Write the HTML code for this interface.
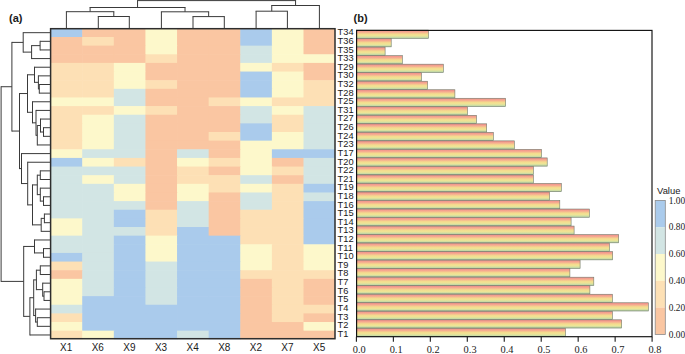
<!DOCTYPE html><html><head><meta charset="utf-8"><style>html,body{margin:0;padding:0;background:#fff;}body{width:685px;height:354px;overflow:hidden;}svg{display:block;}.s{font-family:"Liberation Sans",sans-serif;}.r{font-family:"Liberation Serif",serif;}</style></head><body>
<svg width="685" height="354" viewBox="0 0 685 354">
<defs><linearGradient id="bg" x1="0" y1="0" x2="0" y2="1"><stop offset="0" stop-color="#f08a8a"/><stop offset="0.25" stop-color="#f6ab90"/><stop offset="0.5" stop-color="#f4dc8e"/><stop offset="0.7" stop-color="#eee496"/><stop offset="0.88" stop-color="#c9dca4"/><stop offset="1" stop-color="#a8c49c"/></linearGradient></defs>
<rect x="50.60" y="28.36" width="32.21" height="9.24" fill="#aacbec"/>
<rect x="82.21" y="28.36" width="32.21" height="9.24" fill="#fac6a2"/>
<rect x="113.82" y="28.36" width="32.21" height="9.24" fill="#fac6a2"/>
<rect x="145.43" y="28.36" width="32.21" height="9.24" fill="#fdf8cb"/>
<rect x="177.04" y="28.36" width="32.21" height="9.24" fill="#fac6a2"/>
<rect x="208.66" y="28.36" width="32.21" height="9.24" fill="#fac6a2"/>
<rect x="240.27" y="28.36" width="32.21" height="9.24" fill="#aacbec"/>
<rect x="271.88" y="28.36" width="32.21" height="9.24" fill="#fdf8cb"/>
<rect x="303.49" y="28.36" width="31.61" height="9.24" fill="#fac6a2"/>
<rect x="50.60" y="37.00" width="32.21" height="9.24" fill="#fac6a2"/>
<rect x="82.21" y="37.00" width="32.21" height="9.24" fill="#fde0b5"/>
<rect x="113.82" y="37.00" width="32.21" height="9.24" fill="#fac6a2"/>
<rect x="145.43" y="37.00" width="32.21" height="9.24" fill="#fdf8cb"/>
<rect x="177.04" y="37.00" width="32.21" height="9.24" fill="#fac6a2"/>
<rect x="208.66" y="37.00" width="32.21" height="9.24" fill="#fac6a2"/>
<rect x="240.27" y="37.00" width="32.21" height="9.24" fill="#aacbec"/>
<rect x="271.88" y="37.00" width="32.21" height="9.24" fill="#fdf8cb"/>
<rect x="303.49" y="37.00" width="31.61" height="9.24" fill="#fac6a2"/>
<rect x="50.60" y="45.63" width="32.21" height="9.24" fill="#fac6a2"/>
<rect x="82.21" y="45.63" width="32.21" height="9.24" fill="#fac6a2"/>
<rect x="113.82" y="45.63" width="32.21" height="9.24" fill="#fac6a2"/>
<rect x="145.43" y="45.63" width="32.21" height="9.24" fill="#fdf8cb"/>
<rect x="177.04" y="45.63" width="32.21" height="9.24" fill="#fac6a2"/>
<rect x="208.66" y="45.63" width="32.21" height="9.24" fill="#fac6a2"/>
<rect x="240.27" y="45.63" width="32.21" height="9.24" fill="#d2e5e4"/>
<rect x="271.88" y="45.63" width="32.21" height="9.24" fill="#fdf8cb"/>
<rect x="303.49" y="45.63" width="31.61" height="9.24" fill="#fac6a2"/>
<rect x="50.60" y="54.27" width="32.21" height="9.24" fill="#fac6a2"/>
<rect x="82.21" y="54.27" width="32.21" height="9.24" fill="#fac6a2"/>
<rect x="113.82" y="54.27" width="32.21" height="9.24" fill="#fac6a2"/>
<rect x="145.43" y="54.27" width="32.21" height="9.24" fill="#fde0b5"/>
<rect x="177.04" y="54.27" width="32.21" height="9.24" fill="#fac6a2"/>
<rect x="208.66" y="54.27" width="32.21" height="9.24" fill="#fac6a2"/>
<rect x="240.27" y="54.27" width="32.21" height="9.24" fill="#d2e5e4"/>
<rect x="271.88" y="54.27" width="32.21" height="9.24" fill="#fdf8cb"/>
<rect x="303.49" y="54.27" width="31.61" height="9.24" fill="#fdf8cb"/>
<rect x="50.60" y="62.91" width="32.21" height="9.24" fill="#fde0b5"/>
<rect x="82.21" y="62.91" width="32.21" height="9.24" fill="#fde0b5"/>
<rect x="113.82" y="62.91" width="32.21" height="9.24" fill="#fdf8cb"/>
<rect x="145.43" y="62.91" width="32.21" height="9.24" fill="#fac6a2"/>
<rect x="177.04" y="62.91" width="32.21" height="9.24" fill="#fac6a2"/>
<rect x="208.66" y="62.91" width="32.21" height="9.24" fill="#fac6a2"/>
<rect x="240.27" y="62.91" width="32.21" height="9.24" fill="#fdf8cb"/>
<rect x="271.88" y="62.91" width="32.21" height="9.24" fill="#fde0b5"/>
<rect x="303.49" y="62.91" width="31.61" height="9.24" fill="#fac6a2"/>
<rect x="50.60" y="71.55" width="32.21" height="9.24" fill="#fde0b5"/>
<rect x="82.21" y="71.55" width="32.21" height="9.24" fill="#fde0b5"/>
<rect x="113.82" y="71.55" width="32.21" height="9.24" fill="#fdf8cb"/>
<rect x="145.43" y="71.55" width="32.21" height="9.24" fill="#fac6a2"/>
<rect x="177.04" y="71.55" width="32.21" height="9.24" fill="#fac6a2"/>
<rect x="208.66" y="71.55" width="32.21" height="9.24" fill="#fac6a2"/>
<rect x="240.27" y="71.55" width="32.21" height="9.24" fill="#aacbec"/>
<rect x="271.88" y="71.55" width="32.21" height="9.24" fill="#fdf8cb"/>
<rect x="303.49" y="71.55" width="31.61" height="9.24" fill="#fac6a2"/>
<rect x="50.60" y="80.18" width="32.21" height="9.24" fill="#fde0b5"/>
<rect x="82.21" y="80.18" width="32.21" height="9.24" fill="#fde0b5"/>
<rect x="113.82" y="80.18" width="32.21" height="9.24" fill="#fdf8cb"/>
<rect x="145.43" y="80.18" width="32.21" height="9.24" fill="#fde0b5"/>
<rect x="177.04" y="80.18" width="32.21" height="9.24" fill="#fac6a2"/>
<rect x="208.66" y="80.18" width="32.21" height="9.24" fill="#fac6a2"/>
<rect x="240.27" y="80.18" width="32.21" height="9.24" fill="#aacbec"/>
<rect x="271.88" y="80.18" width="32.21" height="9.24" fill="#fdf8cb"/>
<rect x="303.49" y="80.18" width="31.61" height="9.24" fill="#fde0b5"/>
<rect x="50.60" y="88.82" width="32.21" height="9.24" fill="#fde0b5"/>
<rect x="82.21" y="88.82" width="32.21" height="9.24" fill="#fde0b5"/>
<rect x="113.82" y="88.82" width="32.21" height="9.24" fill="#d2e5e4"/>
<rect x="145.43" y="88.82" width="32.21" height="9.24" fill="#fac6a2"/>
<rect x="177.04" y="88.82" width="32.21" height="9.24" fill="#fac6a2"/>
<rect x="208.66" y="88.82" width="32.21" height="9.24" fill="#fac6a2"/>
<rect x="240.27" y="88.82" width="32.21" height="9.24" fill="#aacbec"/>
<rect x="271.88" y="88.82" width="32.21" height="9.24" fill="#fdf8cb"/>
<rect x="303.49" y="88.82" width="31.61" height="9.24" fill="#fde0b5"/>
<rect x="50.60" y="97.46" width="32.21" height="9.24" fill="#fdf8cb"/>
<rect x="82.21" y="97.46" width="32.21" height="9.24" fill="#fdf8cb"/>
<rect x="113.82" y="97.46" width="32.21" height="9.24" fill="#d2e5e4"/>
<rect x="145.43" y="97.46" width="32.21" height="9.24" fill="#fac6a2"/>
<rect x="177.04" y="97.46" width="32.21" height="9.24" fill="#fac6a2"/>
<rect x="208.66" y="97.46" width="32.21" height="9.24" fill="#fde0b5"/>
<rect x="240.27" y="97.46" width="32.21" height="9.24" fill="#fdf8cb"/>
<rect x="271.88" y="97.46" width="32.21" height="9.24" fill="#fde0b5"/>
<rect x="303.49" y="97.46" width="31.61" height="9.24" fill="#fde0b5"/>
<rect x="50.60" y="106.09" width="32.21" height="9.24" fill="#fde0b5"/>
<rect x="82.21" y="106.09" width="32.21" height="9.24" fill="#fde0b5"/>
<rect x="113.82" y="106.09" width="32.21" height="9.24" fill="#fdf8cb"/>
<rect x="145.43" y="106.09" width="32.21" height="9.24" fill="#fde0b5"/>
<rect x="177.04" y="106.09" width="32.21" height="9.24" fill="#fac6a2"/>
<rect x="208.66" y="106.09" width="32.21" height="9.24" fill="#fac6a2"/>
<rect x="240.27" y="106.09" width="32.21" height="9.24" fill="#d2e5e4"/>
<rect x="271.88" y="106.09" width="32.21" height="9.24" fill="#fdf8cb"/>
<rect x="303.49" y="106.09" width="31.61" height="9.24" fill="#d2e5e4"/>
<rect x="50.60" y="114.73" width="32.21" height="9.24" fill="#fde0b5"/>
<rect x="82.21" y="114.73" width="32.21" height="9.24" fill="#fdf8cb"/>
<rect x="113.82" y="114.73" width="32.21" height="9.24" fill="#d2e5e4"/>
<rect x="145.43" y="114.73" width="32.21" height="9.24" fill="#fac6a2"/>
<rect x="177.04" y="114.73" width="32.21" height="9.24" fill="#fac6a2"/>
<rect x="208.66" y="114.73" width="32.21" height="9.24" fill="#fac6a2"/>
<rect x="240.27" y="114.73" width="32.21" height="9.24" fill="#d2e5e4"/>
<rect x="271.88" y="114.73" width="32.21" height="9.24" fill="#fde0b5"/>
<rect x="303.49" y="114.73" width="31.61" height="9.24" fill="#d2e5e4"/>
<rect x="50.60" y="123.37" width="32.21" height="9.24" fill="#fde0b5"/>
<rect x="82.21" y="123.37" width="32.21" height="9.24" fill="#fdf8cb"/>
<rect x="113.82" y="123.37" width="32.21" height="9.24" fill="#d2e5e4"/>
<rect x="145.43" y="123.37" width="32.21" height="9.24" fill="#fac6a2"/>
<rect x="177.04" y="123.37" width="32.21" height="9.24" fill="#fac6a2"/>
<rect x="208.66" y="123.37" width="32.21" height="9.24" fill="#fac6a2"/>
<rect x="240.27" y="123.37" width="32.21" height="9.24" fill="#aacbec"/>
<rect x="271.88" y="123.37" width="32.21" height="9.24" fill="#fde0b5"/>
<rect x="303.49" y="123.37" width="31.61" height="9.24" fill="#d2e5e4"/>
<rect x="50.60" y="132.01" width="32.21" height="9.24" fill="#fde0b5"/>
<rect x="82.21" y="132.01" width="32.21" height="9.24" fill="#fdf8cb"/>
<rect x="113.82" y="132.01" width="32.21" height="9.24" fill="#d2e5e4"/>
<rect x="145.43" y="132.01" width="32.21" height="9.24" fill="#fac6a2"/>
<rect x="177.04" y="132.01" width="32.21" height="9.24" fill="#fac6a2"/>
<rect x="208.66" y="132.01" width="32.21" height="9.24" fill="#fde0b5"/>
<rect x="240.27" y="132.01" width="32.21" height="9.24" fill="#aacbec"/>
<rect x="271.88" y="132.01" width="32.21" height="9.24" fill="#fdf8cb"/>
<rect x="303.49" y="132.01" width="31.61" height="9.24" fill="#d2e5e4"/>
<rect x="50.60" y="140.64" width="32.21" height="9.24" fill="#fde0b5"/>
<rect x="82.21" y="140.64" width="32.21" height="9.24" fill="#fdf8cb"/>
<rect x="113.82" y="140.64" width="32.21" height="9.24" fill="#d2e5e4"/>
<rect x="145.43" y="140.64" width="32.21" height="9.24" fill="#fac6a2"/>
<rect x="177.04" y="140.64" width="32.21" height="9.24" fill="#fac6a2"/>
<rect x="208.66" y="140.64" width="32.21" height="9.24" fill="#fac6a2"/>
<rect x="240.27" y="140.64" width="32.21" height="9.24" fill="#fdf8cb"/>
<rect x="271.88" y="140.64" width="32.21" height="9.24" fill="#fdf8cb"/>
<rect x="303.49" y="140.64" width="31.61" height="9.24" fill="#d2e5e4"/>
<rect x="50.60" y="149.28" width="32.21" height="9.24" fill="#fdf8cb"/>
<rect x="82.21" y="149.28" width="32.21" height="9.24" fill="#d2e5e4"/>
<rect x="113.82" y="149.28" width="32.21" height="9.24" fill="#d2e5e4"/>
<rect x="145.43" y="149.28" width="32.21" height="9.24" fill="#fac6a2"/>
<rect x="177.04" y="149.28" width="32.21" height="9.24" fill="#d2e5e4"/>
<rect x="208.66" y="149.28" width="32.21" height="9.24" fill="#fac6a2"/>
<rect x="240.27" y="149.28" width="32.21" height="9.24" fill="#fdf8cb"/>
<rect x="271.88" y="149.28" width="32.21" height="9.24" fill="#aacbec"/>
<rect x="303.49" y="149.28" width="31.61" height="9.24" fill="#aacbec"/>
<rect x="50.60" y="157.92" width="32.21" height="9.24" fill="#aacbec"/>
<rect x="82.21" y="157.92" width="32.21" height="9.24" fill="#fdf8cb"/>
<rect x="113.82" y="157.92" width="32.21" height="9.24" fill="#fde0b5"/>
<rect x="145.43" y="157.92" width="32.21" height="9.24" fill="#fac6a2"/>
<rect x="177.04" y="157.92" width="32.21" height="9.24" fill="#fdf8cb"/>
<rect x="208.66" y="157.92" width="32.21" height="9.24" fill="#fde0b5"/>
<rect x="240.27" y="157.92" width="32.21" height="9.24" fill="#fdf8cb"/>
<rect x="271.88" y="157.92" width="32.21" height="9.24" fill="#fac6a2"/>
<rect x="303.49" y="157.92" width="31.61" height="9.24" fill="#d2e5e4"/>
<rect x="50.60" y="166.56" width="32.21" height="9.24" fill="#d2e5e4"/>
<rect x="82.21" y="166.56" width="32.21" height="9.24" fill="#d2e5e4"/>
<rect x="113.82" y="166.56" width="32.21" height="9.24" fill="#d2e5e4"/>
<rect x="145.43" y="166.56" width="32.21" height="9.24" fill="#fac6a2"/>
<rect x="177.04" y="166.56" width="32.21" height="9.24" fill="#fde0b5"/>
<rect x="208.66" y="166.56" width="32.21" height="9.24" fill="#fac6a2"/>
<rect x="240.27" y="166.56" width="32.21" height="9.24" fill="#fdf8cb"/>
<rect x="271.88" y="166.56" width="32.21" height="9.24" fill="#fde0b5"/>
<rect x="303.49" y="166.56" width="31.61" height="9.24" fill="#d2e5e4"/>
<rect x="50.60" y="175.19" width="32.21" height="9.24" fill="#d2e5e4"/>
<rect x="82.21" y="175.19" width="32.21" height="9.24" fill="#fdf8cb"/>
<rect x="113.82" y="175.19" width="32.21" height="9.24" fill="#d2e5e4"/>
<rect x="145.43" y="175.19" width="32.21" height="9.24" fill="#fac6a2"/>
<rect x="177.04" y="175.19" width="32.21" height="9.24" fill="#fde0b5"/>
<rect x="208.66" y="175.19" width="32.21" height="9.24" fill="#fde0b5"/>
<rect x="240.27" y="175.19" width="32.21" height="9.24" fill="#d2e5e4"/>
<rect x="271.88" y="175.19" width="32.21" height="9.24" fill="#fac6a2"/>
<rect x="303.49" y="175.19" width="31.61" height="9.24" fill="#d2e5e4"/>
<rect x="50.60" y="183.83" width="32.21" height="9.24" fill="#d2e5e4"/>
<rect x="82.21" y="183.83" width="32.21" height="9.24" fill="#d2e5e4"/>
<rect x="113.82" y="183.83" width="32.21" height="9.24" fill="#fdf8cb"/>
<rect x="145.43" y="183.83" width="32.21" height="9.24" fill="#fac6a2"/>
<rect x="177.04" y="183.83" width="32.21" height="9.24" fill="#fdf8cb"/>
<rect x="208.66" y="183.83" width="32.21" height="9.24" fill="#fde0b5"/>
<rect x="240.27" y="183.83" width="32.21" height="9.24" fill="#fdf8cb"/>
<rect x="271.88" y="183.83" width="32.21" height="9.24" fill="#fde0b5"/>
<rect x="303.49" y="183.83" width="31.61" height="9.24" fill="#aacbec"/>
<rect x="50.60" y="192.47" width="32.21" height="9.24" fill="#d2e5e4"/>
<rect x="82.21" y="192.47" width="32.21" height="9.24" fill="#d2e5e4"/>
<rect x="113.82" y="192.47" width="32.21" height="9.24" fill="#fdf8cb"/>
<rect x="145.43" y="192.47" width="32.21" height="9.24" fill="#fac6a2"/>
<rect x="177.04" y="192.47" width="32.21" height="9.24" fill="#fdf8cb"/>
<rect x="208.66" y="192.47" width="32.21" height="9.24" fill="#fac6a2"/>
<rect x="240.27" y="192.47" width="32.21" height="9.24" fill="#d2e5e4"/>
<rect x="271.88" y="192.47" width="32.21" height="9.24" fill="#fde0b5"/>
<rect x="303.49" y="192.47" width="31.61" height="9.24" fill="#d2e5e4"/>
<rect x="50.60" y="201.10" width="32.21" height="9.24" fill="#d2e5e4"/>
<rect x="82.21" y="201.10" width="32.21" height="9.24" fill="#d2e5e4"/>
<rect x="113.82" y="201.10" width="32.21" height="9.24" fill="#d2e5e4"/>
<rect x="145.43" y="201.10" width="32.21" height="9.24" fill="#fac6a2"/>
<rect x="177.04" y="201.10" width="32.21" height="9.24" fill="#d2e5e4"/>
<rect x="208.66" y="201.10" width="32.21" height="9.24" fill="#fac6a2"/>
<rect x="240.27" y="201.10" width="32.21" height="9.24" fill="#d2e5e4"/>
<rect x="271.88" y="201.10" width="32.21" height="9.24" fill="#fde0b5"/>
<rect x="303.49" y="201.10" width="31.61" height="9.24" fill="#aacbec"/>
<rect x="50.60" y="209.74" width="32.21" height="9.24" fill="#d2e5e4"/>
<rect x="82.21" y="209.74" width="32.21" height="9.24" fill="#d2e5e4"/>
<rect x="113.82" y="209.74" width="32.21" height="9.24" fill="#aacbec"/>
<rect x="145.43" y="209.74" width="32.21" height="9.24" fill="#fde0b5"/>
<rect x="177.04" y="209.74" width="32.21" height="9.24" fill="#d2e5e4"/>
<rect x="208.66" y="209.74" width="32.21" height="9.24" fill="#fac6a2"/>
<rect x="240.27" y="209.74" width="32.21" height="9.24" fill="#fde0b5"/>
<rect x="271.88" y="209.74" width="32.21" height="9.24" fill="#fde0b5"/>
<rect x="303.49" y="209.74" width="31.61" height="9.24" fill="#aacbec"/>
<rect x="50.60" y="218.38" width="32.21" height="9.24" fill="#fdf8cb"/>
<rect x="82.21" y="218.38" width="32.21" height="9.24" fill="#d2e5e4"/>
<rect x="113.82" y="218.38" width="32.21" height="9.24" fill="#aacbec"/>
<rect x="145.43" y="218.38" width="32.21" height="9.24" fill="#fde0b5"/>
<rect x="177.04" y="218.38" width="32.21" height="9.24" fill="#d2e5e4"/>
<rect x="208.66" y="218.38" width="32.21" height="9.24" fill="#fac6a2"/>
<rect x="240.27" y="218.38" width="32.21" height="9.24" fill="#fde0b5"/>
<rect x="271.88" y="218.38" width="32.21" height="9.24" fill="#fde0b5"/>
<rect x="303.49" y="218.38" width="31.61" height="9.24" fill="#aacbec"/>
<rect x="50.60" y="227.02" width="32.21" height="9.24" fill="#fdf8cb"/>
<rect x="82.21" y="227.02" width="32.21" height="9.24" fill="#d2e5e4"/>
<rect x="113.82" y="227.02" width="32.21" height="9.24" fill="#d2e5e4"/>
<rect x="145.43" y="227.02" width="32.21" height="9.24" fill="#fde0b5"/>
<rect x="177.04" y="227.02" width="32.21" height="9.24" fill="#aacbec"/>
<rect x="208.66" y="227.02" width="32.21" height="9.24" fill="#fac6a2"/>
<rect x="240.27" y="227.02" width="32.21" height="9.24" fill="#fde0b5"/>
<rect x="271.88" y="227.02" width="32.21" height="9.24" fill="#fde0b5"/>
<rect x="303.49" y="227.02" width="31.61" height="9.24" fill="#aacbec"/>
<rect x="50.60" y="235.65" width="32.21" height="9.24" fill="#d2e5e4"/>
<rect x="82.21" y="235.65" width="32.21" height="9.24" fill="#d2e5e4"/>
<rect x="113.82" y="235.65" width="32.21" height="9.24" fill="#aacbec"/>
<rect x="145.43" y="235.65" width="32.21" height="9.24" fill="#fdf8cb"/>
<rect x="177.04" y="235.65" width="32.21" height="9.24" fill="#aacbec"/>
<rect x="208.66" y="235.65" width="32.21" height="9.24" fill="#aacbec"/>
<rect x="240.27" y="235.65" width="32.21" height="9.24" fill="#fde0b5"/>
<rect x="271.88" y="235.65" width="32.21" height="9.24" fill="#fde0b5"/>
<rect x="303.49" y="235.65" width="31.61" height="9.24" fill="#aacbec"/>
<rect x="50.60" y="244.29" width="32.21" height="9.24" fill="#d2e5e4"/>
<rect x="82.21" y="244.29" width="32.21" height="9.24" fill="#d2e5e4"/>
<rect x="113.82" y="244.29" width="32.21" height="9.24" fill="#aacbec"/>
<rect x="145.43" y="244.29" width="32.21" height="9.24" fill="#fdf8cb"/>
<rect x="177.04" y="244.29" width="32.21" height="9.24" fill="#aacbec"/>
<rect x="208.66" y="244.29" width="32.21" height="9.24" fill="#aacbec"/>
<rect x="240.27" y="244.29" width="32.21" height="9.24" fill="#fdf8cb"/>
<rect x="271.88" y="244.29" width="32.21" height="9.24" fill="#fde0b5"/>
<rect x="303.49" y="244.29" width="31.61" height="9.24" fill="#fdf8cb"/>
<rect x="50.60" y="252.93" width="32.21" height="9.24" fill="#aacbec"/>
<rect x="82.21" y="252.93" width="32.21" height="9.24" fill="#d2e5e4"/>
<rect x="113.82" y="252.93" width="32.21" height="9.24" fill="#aacbec"/>
<rect x="145.43" y="252.93" width="32.21" height="9.24" fill="#fdf8cb"/>
<rect x="177.04" y="252.93" width="32.21" height="9.24" fill="#aacbec"/>
<rect x="208.66" y="252.93" width="32.21" height="9.24" fill="#aacbec"/>
<rect x="240.27" y="252.93" width="32.21" height="9.24" fill="#fdf8cb"/>
<rect x="271.88" y="252.93" width="32.21" height="9.24" fill="#fde0b5"/>
<rect x="303.49" y="252.93" width="31.61" height="9.24" fill="#fdf8cb"/>
<rect x="50.60" y="261.56" width="32.21" height="9.24" fill="#fde0b5"/>
<rect x="82.21" y="261.56" width="32.21" height="9.24" fill="#d2e5e4"/>
<rect x="113.82" y="261.56" width="32.21" height="9.24" fill="#aacbec"/>
<rect x="145.43" y="261.56" width="32.21" height="9.24" fill="#d2e5e4"/>
<rect x="177.04" y="261.56" width="32.21" height="9.24" fill="#aacbec"/>
<rect x="208.66" y="261.56" width="32.21" height="9.24" fill="#aacbec"/>
<rect x="240.27" y="261.56" width="32.21" height="9.24" fill="#fdf8cb"/>
<rect x="271.88" y="261.56" width="32.21" height="9.24" fill="#fde0b5"/>
<rect x="303.49" y="261.56" width="31.61" height="9.24" fill="#fdf8cb"/>
<rect x="50.60" y="270.20" width="32.21" height="9.24" fill="#fac6a2"/>
<rect x="82.21" y="270.20" width="32.21" height="9.24" fill="#d2e5e4"/>
<rect x="113.82" y="270.20" width="32.21" height="9.24" fill="#aacbec"/>
<rect x="145.43" y="270.20" width="32.21" height="9.24" fill="#d2e5e4"/>
<rect x="177.04" y="270.20" width="32.21" height="9.24" fill="#aacbec"/>
<rect x="208.66" y="270.20" width="32.21" height="9.24" fill="#aacbec"/>
<rect x="240.27" y="270.20" width="32.21" height="9.24" fill="#fde0b5"/>
<rect x="271.88" y="270.20" width="32.21" height="9.24" fill="#fde0b5"/>
<rect x="303.49" y="270.20" width="31.61" height="9.24" fill="#fde0b5"/>
<rect x="50.60" y="278.84" width="32.21" height="9.24" fill="#fdf8cb"/>
<rect x="82.21" y="278.84" width="32.21" height="9.24" fill="#d2e5e4"/>
<rect x="113.82" y="278.84" width="32.21" height="9.24" fill="#aacbec"/>
<rect x="145.43" y="278.84" width="32.21" height="9.24" fill="#d2e5e4"/>
<rect x="177.04" y="278.84" width="32.21" height="9.24" fill="#aacbec"/>
<rect x="208.66" y="278.84" width="32.21" height="9.24" fill="#aacbec"/>
<rect x="240.27" y="278.84" width="32.21" height="9.24" fill="#fac6a2"/>
<rect x="271.88" y="278.84" width="32.21" height="9.24" fill="#fde0b5"/>
<rect x="303.49" y="278.84" width="31.61" height="9.24" fill="#fac6a2"/>
<rect x="50.60" y="287.48" width="32.21" height="9.24" fill="#fdf8cb"/>
<rect x="82.21" y="287.48" width="32.21" height="9.24" fill="#d2e5e4"/>
<rect x="113.82" y="287.48" width="32.21" height="9.24" fill="#aacbec"/>
<rect x="145.43" y="287.48" width="32.21" height="9.24" fill="#d2e5e4"/>
<rect x="177.04" y="287.48" width="32.21" height="9.24" fill="#aacbec"/>
<rect x="208.66" y="287.48" width="32.21" height="9.24" fill="#aacbec"/>
<rect x="240.27" y="287.48" width="32.21" height="9.24" fill="#fac6a2"/>
<rect x="271.88" y="287.48" width="32.21" height="9.24" fill="#fde0b5"/>
<rect x="303.49" y="287.48" width="31.61" height="9.24" fill="#fac6a2"/>
<rect x="50.60" y="296.11" width="32.21" height="9.24" fill="#fdf8cb"/>
<rect x="82.21" y="296.11" width="32.21" height="9.24" fill="#aacbec"/>
<rect x="113.82" y="296.11" width="32.21" height="9.24" fill="#aacbec"/>
<rect x="145.43" y="296.11" width="32.21" height="9.24" fill="#d2e5e4"/>
<rect x="177.04" y="296.11" width="32.21" height="9.24" fill="#aacbec"/>
<rect x="208.66" y="296.11" width="32.21" height="9.24" fill="#aacbec"/>
<rect x="240.27" y="296.11" width="32.21" height="9.24" fill="#fac6a2"/>
<rect x="271.88" y="296.11" width="32.21" height="9.24" fill="#fde0b5"/>
<rect x="303.49" y="296.11" width="31.61" height="9.24" fill="#fac6a2"/>
<rect x="50.60" y="304.75" width="32.21" height="9.24" fill="#d2e5e4"/>
<rect x="82.21" y="304.75" width="32.21" height="9.24" fill="#aacbec"/>
<rect x="113.82" y="304.75" width="32.21" height="9.24" fill="#aacbec"/>
<rect x="145.43" y="304.75" width="32.21" height="9.24" fill="#aacbec"/>
<rect x="177.04" y="304.75" width="32.21" height="9.24" fill="#aacbec"/>
<rect x="208.66" y="304.75" width="32.21" height="9.24" fill="#aacbec"/>
<rect x="240.27" y="304.75" width="32.21" height="9.24" fill="#fac6a2"/>
<rect x="271.88" y="304.75" width="32.21" height="9.24" fill="#fde0b5"/>
<rect x="303.49" y="304.75" width="31.61" height="9.24" fill="#fde0b5"/>
<rect x="50.60" y="313.39" width="32.21" height="9.24" fill="#fde0b5"/>
<rect x="82.21" y="313.39" width="32.21" height="9.24" fill="#aacbec"/>
<rect x="113.82" y="313.39" width="32.21" height="9.24" fill="#aacbec"/>
<rect x="145.43" y="313.39" width="32.21" height="9.24" fill="#aacbec"/>
<rect x="177.04" y="313.39" width="32.21" height="9.24" fill="#aacbec"/>
<rect x="208.66" y="313.39" width="32.21" height="9.24" fill="#aacbec"/>
<rect x="240.27" y="313.39" width="32.21" height="9.24" fill="#fac6a2"/>
<rect x="271.88" y="313.39" width="32.21" height="9.24" fill="#fde0b5"/>
<rect x="303.49" y="313.39" width="31.61" height="9.24" fill="#fac6a2"/>
<rect x="50.60" y="322.03" width="32.21" height="9.24" fill="#fdf8cb"/>
<rect x="82.21" y="322.03" width="32.21" height="9.24" fill="#aacbec"/>
<rect x="113.82" y="322.03" width="32.21" height="9.24" fill="#aacbec"/>
<rect x="145.43" y="322.03" width="32.21" height="9.24" fill="#aacbec"/>
<rect x="177.04" y="322.03" width="32.21" height="9.24" fill="#aacbec"/>
<rect x="208.66" y="322.03" width="32.21" height="9.24" fill="#aacbec"/>
<rect x="240.27" y="322.03" width="32.21" height="9.24" fill="#fac6a2"/>
<rect x="271.88" y="322.03" width="32.21" height="9.24" fill="#fac6a2"/>
<rect x="303.49" y="322.03" width="31.61" height="9.24" fill="#fdf8cb"/>
<rect x="50.60" y="330.66" width="32.21" height="8.64" fill="#fde0b5"/>
<rect x="82.21" y="330.66" width="32.21" height="8.64" fill="#fdf8cb"/>
<rect x="113.82" y="330.66" width="32.21" height="8.64" fill="#aacbec"/>
<rect x="145.43" y="330.66" width="32.21" height="8.64" fill="#aacbec"/>
<rect x="177.04" y="330.66" width="32.21" height="8.64" fill="#d2e5e4"/>
<rect x="208.66" y="330.66" width="32.21" height="8.64" fill="#aacbec"/>
<rect x="240.27" y="330.66" width="32.21" height="8.64" fill="#fac6a2"/>
<rect x="271.88" y="330.66" width="32.21" height="8.64" fill="#fac6a2"/>
<rect x="303.49" y="330.66" width="31.61" height="8.64" fill="#fac6a2"/>
<rect x="50.6" y="28.7" width="284.4" height="310.0" fill="none" stroke="#2e2e2e" stroke-width="1.5"/>
<line x1="98.30" y1="28.20" x2="98.30" y2="16.50" stroke="#3a3a3a" stroke-width="1.0"/>
<line x1="129.30" y1="28.20" x2="129.30" y2="16.50" stroke="#3a3a3a" stroke-width="1.0"/>
<line x1="97.80" y1="16.50" x2="129.80" y2="16.50" stroke="#3a3a3a" stroke-width="1.0"/>
<line x1="66.40" y1="28.20" x2="66.40" y2="11.70" stroke="#3a3a3a" stroke-width="1.0"/>
<line x1="113.80" y1="16.50" x2="113.80" y2="11.70" stroke="#3a3a3a" stroke-width="1.0"/>
<line x1="65.90" y1="11.70" x2="114.30" y2="11.70" stroke="#3a3a3a" stroke-width="1.0"/>
<line x1="193.00" y1="28.20" x2="193.00" y2="16.60" stroke="#3a3a3a" stroke-width="1.0"/>
<line x1="224.30" y1="28.20" x2="224.30" y2="16.60" stroke="#3a3a3a" stroke-width="1.0"/>
<line x1="192.50" y1="16.60" x2="224.80" y2="16.60" stroke="#3a3a3a" stroke-width="1.0"/>
<line x1="161.40" y1="28.20" x2="161.40" y2="11.80" stroke="#3a3a3a" stroke-width="1.0"/>
<line x1="208.65" y1="16.60" x2="208.65" y2="11.80" stroke="#3a3a3a" stroke-width="1.0"/>
<line x1="160.90" y1="11.80" x2="209.15" y2="11.80" stroke="#3a3a3a" stroke-width="1.0"/>
<line x1="90.10" y1="11.70" x2="90.10" y2="7.50" stroke="#3a3a3a" stroke-width="1.0"/>
<line x1="185.03" y1="11.80" x2="185.03" y2="7.50" stroke="#3a3a3a" stroke-width="1.0"/>
<line x1="89.60" y1="7.50" x2="185.53" y2="7.50" stroke="#3a3a3a" stroke-width="1.0"/>
<line x1="256.10" y1="28.20" x2="256.10" y2="11.20" stroke="#3a3a3a" stroke-width="1.0"/>
<line x1="287.40" y1="28.20" x2="287.40" y2="11.20" stroke="#3a3a3a" stroke-width="1.0"/>
<line x1="255.60" y1="11.20" x2="287.90" y2="11.20" stroke="#3a3a3a" stroke-width="1.0"/>
<line x1="271.75" y1="11.20" x2="271.75" y2="5.50" stroke="#3a3a3a" stroke-width="1.0"/>
<line x1="319.40" y1="28.20" x2="319.40" y2="5.50" stroke="#3a3a3a" stroke-width="1.0"/>
<line x1="271.25" y1="5.50" x2="319.90" y2="5.50" stroke="#3a3a3a" stroke-width="1.0"/>
<line x1="137.56" y1="7.50" x2="137.56" y2="0.60" stroke="#3a3a3a" stroke-width="1.0"/>
<line x1="295.57" y1="5.50" x2="295.57" y2="0.60" stroke="#3a3a3a" stroke-width="1.0"/>
<line x1="137.06" y1="0.60" x2="296.07" y2="0.60" stroke="#3a3a3a" stroke-width="1.0"/>
<line x1="50.00" y1="41.32" x2="40.10" y2="41.32" stroke="#3a3a3a" stroke-width="1.0"/>
<line x1="50.00" y1="49.95" x2="40.10" y2="49.95" stroke="#3a3a3a" stroke-width="1.0"/>
<line x1="40.10" y1="40.82" x2="40.10" y2="50.45" stroke="#3a3a3a" stroke-width="1.0"/>
<line x1="40.10" y1="45.63" x2="31.60" y2="45.63" stroke="#3a3a3a" stroke-width="1.0"/>
<line x1="50.00" y1="58.59" x2="31.60" y2="58.59" stroke="#3a3a3a" stroke-width="1.0"/>
<line x1="31.60" y1="45.13" x2="31.60" y2="59.09" stroke="#3a3a3a" stroke-width="1.0"/>
<line x1="50.00" y1="32.68" x2="23.20" y2="32.68" stroke="#3a3a3a" stroke-width="1.0"/>
<line x1="31.60" y1="52.11" x2="23.20" y2="52.11" stroke="#3a3a3a" stroke-width="1.0"/>
<line x1="23.20" y1="32.18" x2="23.20" y2="52.61" stroke="#3a3a3a" stroke-width="1.0"/>
<line x1="50.00" y1="84.50" x2="39.30" y2="84.50" stroke="#3a3a3a" stroke-width="1.0"/>
<line x1="50.00" y1="93.14" x2="39.30" y2="93.14" stroke="#3a3a3a" stroke-width="1.0"/>
<line x1="39.30" y1="84.00" x2="39.30" y2="93.64" stroke="#3a3a3a" stroke-width="1.0"/>
<line x1="50.00" y1="75.86" x2="38.40" y2="75.86" stroke="#3a3a3a" stroke-width="1.0"/>
<line x1="39.30" y1="88.82" x2="38.40" y2="88.82" stroke="#3a3a3a" stroke-width="1.0"/>
<line x1="38.40" y1="75.36" x2="38.40" y2="89.32" stroke="#3a3a3a" stroke-width="1.0"/>
<line x1="50.00" y1="67.23" x2="34.50" y2="67.23" stroke="#3a3a3a" stroke-width="1.0"/>
<line x1="38.40" y1="82.34" x2="34.50" y2="82.34" stroke="#3a3a3a" stroke-width="1.0"/>
<line x1="34.50" y1="66.73" x2="34.50" y2="82.84" stroke="#3a3a3a" stroke-width="1.0"/>
<line x1="50.00" y1="127.69" x2="43.50" y2="127.69" stroke="#3a3a3a" stroke-width="1.0"/>
<line x1="50.00" y1="136.33" x2="43.50" y2="136.33" stroke="#3a3a3a" stroke-width="1.0"/>
<line x1="43.50" y1="127.19" x2="43.50" y2="136.83" stroke="#3a3a3a" stroke-width="1.0"/>
<line x1="50.00" y1="119.05" x2="40.50" y2="119.05" stroke="#3a3a3a" stroke-width="1.0"/>
<line x1="43.50" y1="132.01" x2="40.50" y2="132.01" stroke="#3a3a3a" stroke-width="1.0"/>
<line x1="40.50" y1="118.55" x2="40.50" y2="132.51" stroke="#3a3a3a" stroke-width="1.0"/>
<line x1="40.50" y1="125.53" x2="37.30" y2="125.53" stroke="#3a3a3a" stroke-width="1.0"/>
<line x1="50.00" y1="144.96" x2="37.30" y2="144.96" stroke="#3a3a3a" stroke-width="1.0"/>
<line x1="37.30" y1="125.03" x2="37.30" y2="145.46" stroke="#3a3a3a" stroke-width="1.0"/>
<line x1="50.00" y1="110.41" x2="36.00" y2="110.41" stroke="#3a3a3a" stroke-width="1.0"/>
<line x1="37.30" y1="135.25" x2="36.00" y2="135.25" stroke="#3a3a3a" stroke-width="1.0"/>
<line x1="36.00" y1="109.91" x2="36.00" y2="135.75" stroke="#3a3a3a" stroke-width="1.0"/>
<line x1="50.00" y1="101.78" x2="32.50" y2="101.78" stroke="#3a3a3a" stroke-width="1.0"/>
<line x1="36.00" y1="122.83" x2="32.50" y2="122.83" stroke="#3a3a3a" stroke-width="1.0"/>
<line x1="32.50" y1="101.28" x2="32.50" y2="123.33" stroke="#3a3a3a" stroke-width="1.0"/>
<line x1="34.50" y1="74.79" x2="27.50" y2="74.79" stroke="#3a3a3a" stroke-width="1.0"/>
<line x1="32.50" y1="112.30" x2="27.50" y2="112.30" stroke="#3a3a3a" stroke-width="1.0"/>
<line x1="27.50" y1="74.29" x2="27.50" y2="112.80" stroke="#3a3a3a" stroke-width="1.0"/>
<line x1="50.00" y1="170.87" x2="40.30" y2="170.87" stroke="#3a3a3a" stroke-width="1.0"/>
<line x1="50.00" y1="179.51" x2="40.30" y2="179.51" stroke="#3a3a3a" stroke-width="1.0"/>
<line x1="40.30" y1="170.37" x2="40.30" y2="180.01" stroke="#3a3a3a" stroke-width="1.0"/>
<line x1="50.00" y1="196.79" x2="43.50" y2="196.79" stroke="#3a3a3a" stroke-width="1.0"/>
<line x1="50.00" y1="205.42" x2="43.50" y2="205.42" stroke="#3a3a3a" stroke-width="1.0"/>
<line x1="43.50" y1="196.29" x2="43.50" y2="205.92" stroke="#3a3a3a" stroke-width="1.0"/>
<line x1="50.00" y1="188.15" x2="40.30" y2="188.15" stroke="#3a3a3a" stroke-width="1.0"/>
<line x1="43.50" y1="201.10" x2="40.30" y2="201.10" stroke="#3a3a3a" stroke-width="1.0"/>
<line x1="40.30" y1="187.65" x2="40.30" y2="201.60" stroke="#3a3a3a" stroke-width="1.0"/>
<line x1="40.30" y1="175.19" x2="37.30" y2="175.19" stroke="#3a3a3a" stroke-width="1.0"/>
<line x1="40.30" y1="194.63" x2="37.30" y2="194.63" stroke="#3a3a3a" stroke-width="1.0"/>
<line x1="37.30" y1="174.69" x2="37.30" y2="195.13" stroke="#3a3a3a" stroke-width="1.0"/>
<line x1="50.00" y1="214.06" x2="44.40" y2="214.06" stroke="#3a3a3a" stroke-width="1.0"/>
<line x1="50.00" y1="222.70" x2="44.40" y2="222.70" stroke="#3a3a3a" stroke-width="1.0"/>
<line x1="44.40" y1="213.56" x2="44.40" y2="223.20" stroke="#3a3a3a" stroke-width="1.0"/>
<line x1="44.40" y1="218.38" x2="41.20" y2="218.38" stroke="#3a3a3a" stroke-width="1.0"/>
<line x1="50.00" y1="231.33" x2="41.20" y2="231.33" stroke="#3a3a3a" stroke-width="1.0"/>
<line x1="41.20" y1="217.88" x2="41.20" y2="231.83" stroke="#3a3a3a" stroke-width="1.0"/>
<line x1="37.30" y1="184.91" x2="32.50" y2="184.91" stroke="#3a3a3a" stroke-width="1.0"/>
<line x1="41.20" y1="224.86" x2="32.50" y2="224.86" stroke="#3a3a3a" stroke-width="1.0"/>
<line x1="32.50" y1="184.41" x2="32.50" y2="225.36" stroke="#3a3a3a" stroke-width="1.0"/>
<line x1="50.00" y1="162.24" x2="27.70" y2="162.24" stroke="#3a3a3a" stroke-width="1.0"/>
<line x1="32.50" y1="204.88" x2="27.70" y2="204.88" stroke="#3a3a3a" stroke-width="1.0"/>
<line x1="27.70" y1="161.74" x2="27.70" y2="205.38" stroke="#3a3a3a" stroke-width="1.0"/>
<line x1="50.00" y1="153.60" x2="21.50" y2="153.60" stroke="#3a3a3a" stroke-width="1.0"/>
<line x1="27.70" y1="183.56" x2="21.50" y2="183.56" stroke="#3a3a3a" stroke-width="1.0"/>
<line x1="21.50" y1="153.10" x2="21.50" y2="184.06" stroke="#3a3a3a" stroke-width="1.0"/>
<line x1="27.50" y1="93.54" x2="19.50" y2="93.54" stroke="#3a3a3a" stroke-width="1.0"/>
<line x1="21.50" y1="168.58" x2="19.50" y2="168.58" stroke="#3a3a3a" stroke-width="1.0"/>
<line x1="19.50" y1="93.04" x2="19.50" y2="169.08" stroke="#3a3a3a" stroke-width="1.0"/>
<line x1="23.20" y1="42.40" x2="11.90" y2="42.40" stroke="#3a3a3a" stroke-width="1.0"/>
<line x1="19.50" y1="131.06" x2="11.90" y2="131.06" stroke="#3a3a3a" stroke-width="1.0"/>
<line x1="11.90" y1="41.90" x2="11.90" y2="131.56" stroke="#3a3a3a" stroke-width="1.0"/>
<line x1="50.00" y1="248.61" x2="43.50" y2="248.61" stroke="#3a3a3a" stroke-width="1.0"/>
<line x1="50.00" y1="257.25" x2="43.50" y2="257.25" stroke="#3a3a3a" stroke-width="1.0"/>
<line x1="43.50" y1="248.11" x2="43.50" y2="257.75" stroke="#3a3a3a" stroke-width="1.0"/>
<line x1="50.00" y1="239.97" x2="34.50" y2="239.97" stroke="#3a3a3a" stroke-width="1.0"/>
<line x1="43.50" y1="252.93" x2="34.50" y2="252.93" stroke="#3a3a3a" stroke-width="1.0"/>
<line x1="34.50" y1="239.47" x2="34.50" y2="253.43" stroke="#3a3a3a" stroke-width="1.0"/>
<line x1="50.00" y1="265.88" x2="40.30" y2="265.88" stroke="#3a3a3a" stroke-width="1.0"/>
<line x1="50.00" y1="274.52" x2="40.30" y2="274.52" stroke="#3a3a3a" stroke-width="1.0"/>
<line x1="40.30" y1="265.38" x2="40.30" y2="275.02" stroke="#3a3a3a" stroke-width="1.0"/>
<line x1="50.00" y1="291.80" x2="44.00" y2="291.80" stroke="#3a3a3a" stroke-width="1.0"/>
<line x1="50.00" y1="300.43" x2="44.00" y2="300.43" stroke="#3a3a3a" stroke-width="1.0"/>
<line x1="44.00" y1="291.30" x2="44.00" y2="300.93" stroke="#3a3a3a" stroke-width="1.0"/>
<line x1="50.00" y1="283.16" x2="42.70" y2="283.16" stroke="#3a3a3a" stroke-width="1.0"/>
<line x1="44.00" y1="296.11" x2="42.70" y2="296.11" stroke="#3a3a3a" stroke-width="1.0"/>
<line x1="42.70" y1="282.66" x2="42.70" y2="296.61" stroke="#3a3a3a" stroke-width="1.0"/>
<line x1="40.30" y1="270.20" x2="36.40" y2="270.20" stroke="#3a3a3a" stroke-width="1.0"/>
<line x1="42.70" y1="289.64" x2="36.40" y2="289.64" stroke="#3a3a3a" stroke-width="1.0"/>
<line x1="36.40" y1="269.70" x2="36.40" y2="290.14" stroke="#3a3a3a" stroke-width="1.0"/>
<line x1="50.00" y1="317.71" x2="37.30" y2="317.71" stroke="#3a3a3a" stroke-width="1.0"/>
<line x1="50.00" y1="326.34" x2="37.30" y2="326.34" stroke="#3a3a3a" stroke-width="1.0"/>
<line x1="37.30" y1="317.21" x2="37.30" y2="326.84" stroke="#3a3a3a" stroke-width="1.0"/>
<line x1="50.00" y1="309.07" x2="35.60" y2="309.07" stroke="#3a3a3a" stroke-width="1.0"/>
<line x1="37.30" y1="322.03" x2="35.60" y2="322.03" stroke="#3a3a3a" stroke-width="1.0"/>
<line x1="35.60" y1="308.57" x2="35.60" y2="322.53" stroke="#3a3a3a" stroke-width="1.0"/>
<line x1="36.40" y1="279.92" x2="33.70" y2="279.92" stroke="#3a3a3a" stroke-width="1.0"/>
<line x1="35.60" y1="315.55" x2="33.70" y2="315.55" stroke="#3a3a3a" stroke-width="1.0"/>
<line x1="33.70" y1="279.42" x2="33.70" y2="316.05" stroke="#3a3a3a" stroke-width="1.0"/>
<line x1="33.70" y1="297.73" x2="29.90" y2="297.73" stroke="#3a3a3a" stroke-width="1.0"/>
<line x1="50.00" y1="334.98" x2="29.90" y2="334.98" stroke="#3a3a3a" stroke-width="1.0"/>
<line x1="29.90" y1="297.23" x2="29.90" y2="335.48" stroke="#3a3a3a" stroke-width="1.0"/>
<line x1="34.50" y1="246.45" x2="23.70" y2="246.45" stroke="#3a3a3a" stroke-width="1.0"/>
<line x1="29.90" y1="316.36" x2="23.70" y2="316.36" stroke="#3a3a3a" stroke-width="1.0"/>
<line x1="23.70" y1="245.95" x2="23.70" y2="316.86" stroke="#3a3a3a" stroke-width="1.0"/>
<line x1="11.90" y1="86.73" x2="1.10" y2="86.73" stroke="#3a3a3a" stroke-width="1.0"/>
<line x1="23.70" y1="281.40" x2="1.10" y2="281.40" stroke="#3a3a3a" stroke-width="1.0"/>
<line x1="1.10" y1="86.23" x2="1.10" y2="281.90" stroke="#3a3a3a" stroke-width="1.0"/>
<text class="s" x="337.6" y="35.30" font-size="9.3" fill="#1a1a1a">T34</text>
<text class="s" x="337.6" y="43.91" font-size="9.3" fill="#1a1a1a">T36</text>
<text class="s" x="337.6" y="52.53" font-size="9.3" fill="#1a1a1a">T35</text>
<text class="s" x="337.6" y="61.14" font-size="9.3" fill="#1a1a1a">T33</text>
<text class="s" x="337.6" y="69.75" font-size="9.3" fill="#1a1a1a">T29</text>
<text class="s" x="337.6" y="78.36" font-size="9.3" fill="#1a1a1a">T30</text>
<text class="s" x="337.6" y="86.98" font-size="9.3" fill="#1a1a1a">T32</text>
<text class="s" x="337.6" y="95.59" font-size="9.3" fill="#1a1a1a">T28</text>
<text class="s" x="337.6" y="104.20" font-size="9.3" fill="#1a1a1a">T25</text>
<text class="s" x="337.6" y="112.82" font-size="9.3" fill="#1a1a1a">T31</text>
<text class="s" x="337.6" y="121.43" font-size="9.3" fill="#1a1a1a">T27</text>
<text class="s" x="337.6" y="130.04" font-size="9.3" fill="#1a1a1a">T26</text>
<text class="s" x="337.6" y="138.66" font-size="9.3" fill="#1a1a1a">T24</text>
<text class="s" x="337.6" y="147.27" font-size="9.3" fill="#1a1a1a">T23</text>
<text class="s" x="337.6" y="155.88" font-size="9.3" fill="#1a1a1a">T17</text>
<text class="s" x="337.6" y="164.50" font-size="9.3" fill="#1a1a1a">T20</text>
<text class="s" x="337.6" y="173.11" font-size="9.3" fill="#1a1a1a">T22</text>
<text class="s" x="337.6" y="181.72" font-size="9.3" fill="#1a1a1a">T21</text>
<text class="s" x="337.6" y="190.33" font-size="9.3" fill="#1a1a1a">T19</text>
<text class="s" x="337.6" y="198.95" font-size="9.3" fill="#1a1a1a">T18</text>
<text class="s" x="337.6" y="207.56" font-size="9.3" fill="#1a1a1a">T16</text>
<text class="s" x="337.6" y="216.17" font-size="9.3" fill="#1a1a1a">T15</text>
<text class="s" x="337.6" y="224.79" font-size="9.3" fill="#1a1a1a">T14</text>
<text class="s" x="337.6" y="233.40" font-size="9.3" fill="#1a1a1a">T13</text>
<text class="s" x="337.6" y="242.01" font-size="9.3" fill="#1a1a1a">T12</text>
<text class="s" x="337.6" y="250.62" font-size="9.3" fill="#1a1a1a">T11</text>
<text class="s" x="337.6" y="259.24" font-size="9.3" fill="#1a1a1a">T10</text>
<text class="s" x="337.6" y="267.85" font-size="9.3" fill="#1a1a1a">T9</text>
<text class="s" x="337.6" y="276.46" font-size="9.3" fill="#1a1a1a">T8</text>
<text class="s" x="337.6" y="285.08" font-size="9.3" fill="#1a1a1a">T7</text>
<text class="s" x="337.6" y="293.69" font-size="9.3" fill="#1a1a1a">T6</text>
<text class="s" x="337.6" y="302.30" font-size="9.3" fill="#1a1a1a">T5</text>
<text class="s" x="337.6" y="310.92" font-size="9.3" fill="#1a1a1a">T4</text>
<text class="s" x="337.6" y="319.53" font-size="9.3" fill="#1a1a1a">T3</text>
<text class="s" x="337.6" y="328.14" font-size="9.3" fill="#1a1a1a">T2</text>
<text class="s" x="337.6" y="336.75" font-size="9.3" fill="#1a1a1a">T1</text>
<text class="s" transform="translate(66.21,350.8) scale(0.925,1)" font-size="10.8" text-anchor="middle" fill="#1a1a1a">X1</text>
<text class="s" transform="translate(97.82,350.8) scale(0.925,1)" font-size="10.8" text-anchor="middle" fill="#1a1a1a">X6</text>
<text class="s" transform="translate(129.43,350.8) scale(0.925,1)" font-size="10.8" text-anchor="middle" fill="#1a1a1a">X9</text>
<text class="s" transform="translate(161.04,350.8) scale(0.925,1)" font-size="10.8" text-anchor="middle" fill="#1a1a1a">X3</text>
<text class="s" transform="translate(192.65,350.8) scale(0.925,1)" font-size="10.8" text-anchor="middle" fill="#1a1a1a">X4</text>
<text class="s" transform="translate(224.26,350.8) scale(0.925,1)" font-size="10.8" text-anchor="middle" fill="#1a1a1a">X8</text>
<text class="s" transform="translate(255.87,350.8) scale(0.925,1)" font-size="10.8" text-anchor="middle" fill="#1a1a1a">X2</text>
<text class="s" transform="translate(287.48,350.8) scale(0.925,1)" font-size="10.8" text-anchor="middle" fill="#1a1a1a">X7</text>
<text class="s" transform="translate(319.09,350.8) scale(0.925,1)" font-size="10.8" text-anchor="middle" fill="#1a1a1a">X5</text>
<text class="s" x="9" y="22" font-size="11" font-weight="bold" fill="#1a1a1a">(a)</text>
<text class="s" x="353.6" y="22" font-size="11" font-weight="bold" fill="#1a1a1a">(b)</text>
<rect x="356.40" y="30.10" width="72.10" height="8.22" fill="url(#bg)" stroke="#727c6a" stroke-width="0.6"/>
<rect x="356.40" y="38.62" width="34.80" height="8.22" fill="url(#bg)" stroke="#727c6a" stroke-width="0.6"/>
<rect x="356.40" y="47.14" width="28.70" height="8.22" fill="url(#bg)" stroke="#727c6a" stroke-width="0.6"/>
<rect x="356.40" y="55.66" width="45.90" height="8.22" fill="url(#bg)" stroke="#727c6a" stroke-width="0.6"/>
<rect x="356.40" y="64.18" width="86.90" height="8.22" fill="url(#bg)" stroke="#727c6a" stroke-width="0.6"/>
<rect x="356.40" y="72.70" width="65.10" height="8.22" fill="url(#bg)" stroke="#727c6a" stroke-width="0.6"/>
<rect x="356.40" y="81.23" width="71.20" height="8.22" fill="url(#bg)" stroke="#727c6a" stroke-width="0.6"/>
<rect x="356.40" y="89.75" width="98.50" height="8.22" fill="url(#bg)" stroke="#727c6a" stroke-width="0.6"/>
<rect x="356.40" y="98.27" width="149.20" height="8.22" fill="url(#bg)" stroke="#727c6a" stroke-width="0.6"/>
<rect x="356.40" y="106.79" width="111.10" height="8.22" fill="url(#bg)" stroke="#727c6a" stroke-width="0.6"/>
<rect x="356.40" y="115.31" width="120.10" height="8.22" fill="url(#bg)" stroke="#727c6a" stroke-width="0.6"/>
<rect x="356.40" y="123.83" width="130.30" height="8.22" fill="url(#bg)" stroke="#727c6a" stroke-width="0.6"/>
<rect x="356.40" y="132.35" width="136.90" height="8.22" fill="url(#bg)" stroke="#727c6a" stroke-width="0.6"/>
<rect x="356.40" y="140.87" width="157.90" height="8.22" fill="url(#bg)" stroke="#727c6a" stroke-width="0.6"/>
<rect x="356.40" y="149.39" width="185.10" height="8.22" fill="url(#bg)" stroke="#727c6a" stroke-width="0.6"/>
<rect x="356.40" y="157.91" width="190.80" height="8.22" fill="url(#bg)" stroke="#727c6a" stroke-width="0.6"/>
<rect x="356.40" y="166.43" width="177.00" height="8.22" fill="url(#bg)" stroke="#727c6a" stroke-width="0.6"/>
<rect x="356.40" y="174.95" width="177.00" height="8.22" fill="url(#bg)" stroke="#727c6a" stroke-width="0.6"/>
<rect x="356.40" y="183.47" width="204.90" height="8.22" fill="url(#bg)" stroke="#727c6a" stroke-width="0.6"/>
<rect x="356.40" y="192.00" width="193.20" height="8.22" fill="url(#bg)" stroke="#727c6a" stroke-width="0.6"/>
<rect x="356.40" y="200.52" width="203.40" height="8.22" fill="url(#bg)" stroke="#727c6a" stroke-width="0.6"/>
<rect x="356.40" y="209.04" width="233.00" height="8.22" fill="url(#bg)" stroke="#727c6a" stroke-width="0.6"/>
<rect x="356.40" y="217.56" width="214.70" height="8.22" fill="url(#bg)" stroke="#727c6a" stroke-width="0.6"/>
<rect x="356.40" y="226.08" width="217.70" height="8.22" fill="url(#bg)" stroke="#727c6a" stroke-width="0.6"/>
<rect x="356.40" y="234.60" width="262.30" height="8.22" fill="url(#bg)" stroke="#727c6a" stroke-width="0.6"/>
<rect x="356.40" y="243.12" width="253.00" height="8.22" fill="url(#bg)" stroke="#727c6a" stroke-width="0.6"/>
<rect x="356.40" y="251.64" width="256.30" height="8.22" fill="url(#bg)" stroke="#727c6a" stroke-width="0.6"/>
<rect x="356.40" y="260.16" width="223.70" height="8.22" fill="url(#bg)" stroke="#727c6a" stroke-width="0.6"/>
<rect x="356.40" y="268.68" width="213.50" height="8.22" fill="url(#bg)" stroke="#727c6a" stroke-width="0.6"/>
<rect x="356.40" y="277.20" width="237.40" height="8.22" fill="url(#bg)" stroke="#727c6a" stroke-width="0.6"/>
<rect x="356.40" y="285.73" width="233.50" height="8.22" fill="url(#bg)" stroke="#727c6a" stroke-width="0.6"/>
<rect x="356.40" y="294.25" width="256.00" height="8.22" fill="url(#bg)" stroke="#727c6a" stroke-width="0.6"/>
<rect x="356.40" y="302.77" width="291.90" height="8.22" fill="url(#bg)" stroke="#727c6a" stroke-width="0.6"/>
<rect x="356.40" y="311.29" width="256.00" height="8.22" fill="url(#bg)" stroke="#727c6a" stroke-width="0.6"/>
<rect x="356.40" y="319.81" width="265.30" height="8.22" fill="url(#bg)" stroke="#727c6a" stroke-width="0.6"/>
<rect x="356.40" y="328.33" width="209.00" height="8.22" fill="url(#bg)" stroke="#727c6a" stroke-width="0.6"/>
<rect x="356.6" y="30.4" width="295.4" height="306.3" fill="none" stroke="#111" stroke-width="1.15"/>
<line x1="356.40" y1="336.70" x2="356.40" y2="341.70" stroke="#1a1a1a" stroke-width="1.1"/>
<text class="r" transform="translate(359.20,352.5) scale(0.95,1)" font-size="10.9" text-anchor="middle" fill="#1a1a1a">0.0</text>
<line x1="393.36" y1="336.70" x2="393.36" y2="341.70" stroke="#1a1a1a" stroke-width="1.1"/>
<text class="r" transform="translate(396.16,352.5) scale(0.95,1)" font-size="10.9" text-anchor="middle" fill="#1a1a1a">0.1</text>
<line x1="430.32" y1="336.70" x2="430.32" y2="341.70" stroke="#1a1a1a" stroke-width="1.1"/>
<text class="r" transform="translate(433.12,352.5) scale(0.95,1)" font-size="10.9" text-anchor="middle" fill="#1a1a1a">0.2</text>
<line x1="467.29" y1="336.70" x2="467.29" y2="341.70" stroke="#1a1a1a" stroke-width="1.1"/>
<text class="r" transform="translate(470.09,352.5) scale(0.95,1)" font-size="10.9" text-anchor="middle" fill="#1a1a1a">0.3</text>
<line x1="504.25" y1="336.70" x2="504.25" y2="341.70" stroke="#1a1a1a" stroke-width="1.1"/>
<text class="r" transform="translate(507.05,352.5) scale(0.95,1)" font-size="10.9" text-anchor="middle" fill="#1a1a1a">0.4</text>
<line x1="541.21" y1="336.70" x2="541.21" y2="341.70" stroke="#1a1a1a" stroke-width="1.1"/>
<text class="r" transform="translate(544.01,352.5) scale(0.95,1)" font-size="10.9" text-anchor="middle" fill="#1a1a1a">0.5</text>
<line x1="578.17" y1="336.70" x2="578.17" y2="341.70" stroke="#1a1a1a" stroke-width="1.1"/>
<text class="r" transform="translate(580.97,352.5) scale(0.95,1)" font-size="10.9" text-anchor="middle" fill="#1a1a1a">0.6</text>
<line x1="615.14" y1="336.70" x2="615.14" y2="341.70" stroke="#1a1a1a" stroke-width="1.1"/>
<text class="r" transform="translate(617.94,352.5) scale(0.95,1)" font-size="10.9" text-anchor="middle" fill="#1a1a1a">0.7</text>
<line x1="652.10" y1="336.70" x2="652.10" y2="341.70" stroke="#1a1a1a" stroke-width="1.1"/>
<text class="r" transform="translate(654.90,352.5) scale(0.95,1)" font-size="10.9" text-anchor="middle" fill="#1a1a1a">0.8</text>
<rect x="655.2" y="200.40" width="10.10" height="26.85" fill="#aacbec"/>
<rect x="655.2" y="227.20" width="10.10" height="26.85" fill="#d2e5e4"/>
<rect x="655.2" y="254.00" width="10.10" height="26.85" fill="#fdf8cb"/>
<rect x="655.2" y="280.80" width="10.10" height="26.85" fill="#fde0b5"/>
<rect x="655.2" y="307.60" width="10.10" height="26.85" fill="#fac6a2"/>
<rect x="655.2" y="200.4" width="10.10" height="134.00" fill="none" stroke="#8a8a8a" stroke-width="0.8"/>
<text class="s" x="657.1" y="194.2" font-size="9.4" fill="#1a1a1a">Value</text>
<text class="r" x="668.8" y="203.50" font-size="9.4" fill="#1a1a1a">1.00</text>
<text class="r" x="668.8" y="230.30" font-size="9.4" fill="#1a1a1a">0.80</text>
<text class="r" x="668.8" y="257.10" font-size="9.4" fill="#1a1a1a">0.60</text>
<text class="r" x="668.8" y="283.90" font-size="9.4" fill="#1a1a1a">0.40</text>
<text class="r" x="668.8" y="310.70" font-size="9.4" fill="#1a1a1a">0.20</text>
<text class="r" x="668.8" y="337.50" font-size="9.4" fill="#1a1a1a">0.00</text>
</svg></body></html>
